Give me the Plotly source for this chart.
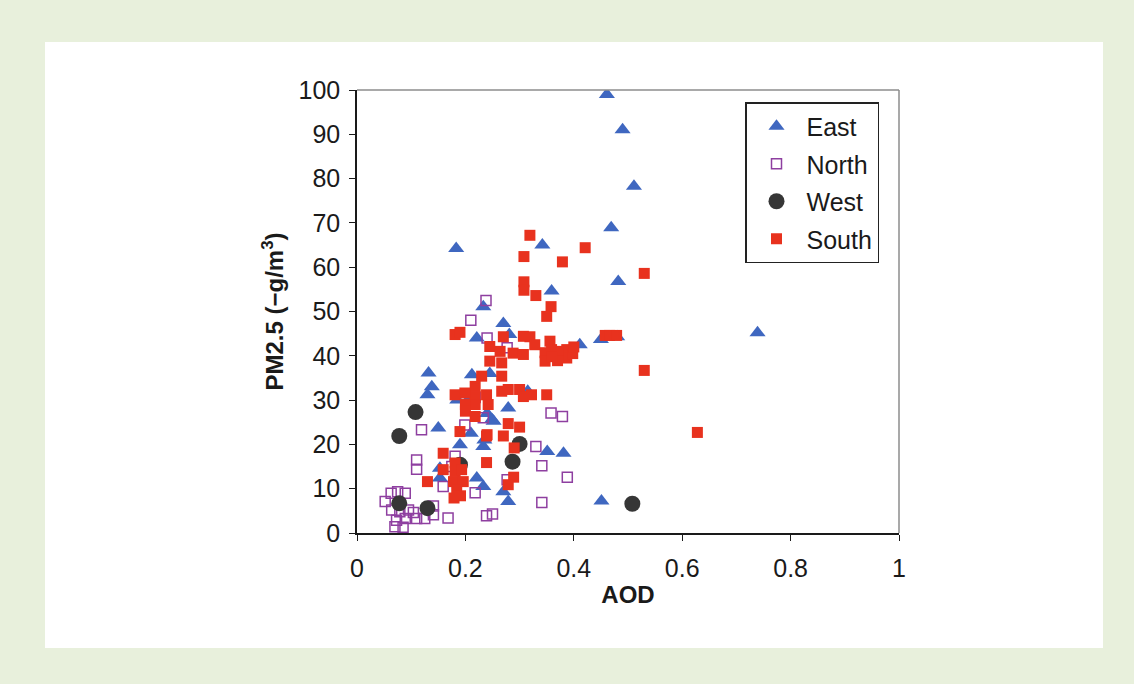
import plotly.graph_objects as go

# ---------------- data ----------------
east_x = [0.461, 0.49, 0.511, 0.469, 0.183, 0.342, 0.482, 0.359, 0.233, 0.27, 0.281, 0.221,
          0.411, 0.45, 0.48, 0.739, 0.132, 0.212, 0.138, 0.13, 0.205, 0.279, 0.252, 0.249,
          0.15, 0.19, 0.233, 0.351, 0.381, 0.153, 0.153, 0.221, 0.233, 0.27, 0.279, 0.451,
          0.245, 0.24, 0.315, 0.235, 0.21, 0.185]
east_y = [99.0, 91.0, 78.3, 68.9, 64.2, 65.0, 56.8, 54.6, 51.1, 47.3, 44.8, 44.0,
          42.5, 43.7, 44.3, 45.2, 36.1, 35.7, 33.0, 31.2, 30.0, 28.2, 25.2, 25.6,
          23.7, 19.9, 19.5, 18.4, 18.0, 14.6, 12.4, 12.4, 10.5, 9.3, 7.1, 7.2,
          36.0, 27.0, 32.0, 21.0, 22.5, 30.0]

north_x = [0.238, 0.21, 0.24, 0.277, 0.218, 0.233, 0.199, 0.119, 0.11, 0.11, 0.181, 0.159,
           0.218, 0.277, 0.33, 0.341, 0.341, 0.358, 0.379, 0.388, 0.239, 0.25, 0.168, 0.141,
           0.141, 0.125, 0.11, 0.089, 0.073, 0.07, 0.085, 0.104, 0.095, 0.079, 0.064, 0.052,
           0.063, 0.075, 0.089, 0.175]
north_y = [52.5, 48.0, 44.0, 41.8, 30.6, 26.0, 24.4, 23.3, 16.5, 14.4, 17.3, 10.5,
           9.1, 12.0, 19.5, 15.2, 6.9, 27.1, 26.3, 12.6, 3.9, 4.3, 3.4, 4.1,
           6.1, 3.3, 3.3, 3.3, 2.9, 1.4, 1.3, 4.6, 5.2, 4.8, 5.2, 7.1,
           9.0, 9.3, 9.0, 15.0]

west_x = [0.108, 0.078, 0.30, 0.287, 0.19, 0.078, 0.13, 0.508]
west_y = [27.3, 21.9, 20.1, 16.1, 15.4, 6.7, 5.6, 6.6]

south_x = [0.319, 0.308, 0.379, 0.421, 0.53, 0.308, 0.308, 0.33, 0.358, 0.35,
           0.458, 0.466, 0.479, 0.53, 0.628,
           0.181, 0.19, 0.27, 0.307, 0.319, 0.328, 0.356, 0.359, 0.387, 0.387, 0.371,
           0.347, 0.347, 0.288, 0.307, 0.245, 0.245, 0.264, 0.267, 0.267, 0.23, 0.218,
           0.218, 0.218, 0.239, 0.242, 0.267, 0.279, 0.3, 0.307, 0.322, 0.35, 0.181,
           0.199, 0.2, 0.2, 0.218, 0.3, 0.279, 0.239, 0.27, 0.19, 0.24, 0.29, 0.159,
           0.181, 0.181, 0.159, 0.193, 0.239, 0.178, 0.196, 0.184, 0.179, 0.191, 0.13,
           0.289, 0.279, 0.398, 0.37, 0.36, 0.40]
south_y = [67.2, 62.4, 61.2, 64.4, 58.6, 56.7, 54.8, 53.6, 51.1, 48.9,
           44.6, 44.6, 44.6, 36.7, 22.7,
           44.8, 45.3, 44.3, 44.4, 44.3, 42.5, 43.3, 41.4, 41.4, 39.5, 41.0,
           40.7, 38.8, 40.6, 40.3, 42.1, 38.8, 41.0, 38.4, 35.4, 35.4, 33.1,
           30.8, 29.0, 31.2, 29.0, 32.0, 32.4, 32.4, 30.8, 31.2, 31.2, 31.2,
           31.6, 29.0, 27.5, 26.3, 23.9, 24.7, 21.9, 21.9, 22.9, 22.2, 19.2, 18.0,
           15.8, 13.9, 14.3, 14.3, 15.9, 11.6, 11.6, 9.7, 7.9, 8.4, 11.6,
           12.6, 10.9, 40.5, 38.9, 39.8, 42.0]

x_ticks = [0, 0.2, 0.4, 0.6, 0.8, 1]
x_tick_text = ["0", "0.2", "0.4", "0.6", "0.8", "1"]
y_ticks = [0, 10, 20, 30, 40, 50, 60, 70, 80, 90, 100]

# ---------------- figure ----------------
W, H = 1134, 684
L, R, T, B = 357, 899, 90, 533
pw, ph = R - L, B - T

fig = go.Figure()
fig.add_trace(go.Scatter(x=east_x, y=east_y, mode="markers", name="East", legendgroup="e",
                         marker=dict(symbol="triangle-up", size=14, color="#3f67c0",
                                     line=dict(width=0))))
fig.add_trace(go.Scatter(x=north_x, y=north_y, mode="markers", name="North", legendgroup="n",
                         marker=dict(symbol="square-open", size=10, color="#8e3fa0",
                                     line=dict(width=1.5, color="#8e3fa0"))))
fig.add_trace(go.Scatter(x=west_x, y=west_y, mode="markers", name="West", legendgroup="w",
                         marker=dict(symbol="circle", size=16, color="#363636",
                                     line=dict(width=0))))
fig.add_trace(go.Scatter(x=south_x, y=south_y, mode="markers", name="South", legendgroup="s",
                         marker=dict(symbol="square", size=11, color="#e8321e",
                                     line=dict(width=0))))

def px_x(p):
    return (p - L) / pw

def px_y(p):
    return (B - p) / ph

shapes = [
    dict(type="rect", xref="paper", yref="paper", x0=px_x(45), x1=px_x(1103),
         y0=px_y(648), y1=px_y(42), fillcolor="white", line=dict(width=0), layer="below"),
    dict(type="line", xref="paper", yref="paper", x0=0, x1=1, y0=1, y1=1,
         line=dict(color="#8c8c8c", width=1.5)),
    dict(type="line", xref="paper", yref="paper", x0=1, x1=1, y0=0, y1=1,
         line=dict(color="#8c8c8c", width=1.5)),
]

font_family = "Liberation Sans, Arial, sans-serif"
fig.update_layout(
    width=W, height=H,
    margin=dict(l=L, r=W - R, t=T, b=H - B, pad=0),
    paper_bgcolor="#e8f0dc",
    plot_bgcolor="white",
    font=dict(family=font_family, size=25, color="#1a1a1a"),
    shapes=shapes,
    showlegend=True,
    legend=dict(x=px_x(745), y=px_y(102), xanchor="left", yanchor="top",
                bgcolor="white", bordercolor="#222222", borderwidth=1.5,
                font=dict(size=25, family=font_family, color="#1a1a1a"),
                tracegroupgap=2, itemsizing="trace", itemwidth=50),
    xaxis=dict(range=[0, 1], tickvals=x_ticks, ticktext=x_tick_text,
               showgrid=False, zeroline=False, showline=True, linecolor="#1a1a1a",
               linewidth=1.5, ticks="outside", ticklen=6, tickcolor="#1a1a1a",
               tickfont=dict(size=25), ticklabelstandoff=6,
               title=dict(text="<b>AOD</b>", font=dict(size=24), standoff=5)),
    yaxis=dict(range=[0, 100], tickvals=y_ticks,
               showgrid=False, zeroline=False, showline=True, linecolor="#1a1a1a",
               linewidth=1.5, ticks="outside", ticklen=6, tickcolor="#1a1a1a",
               tickfont=dict(size=25), ticklabelstandoff=4,
               title=dict(text="<b>PM2.5 (−g/m<sup>3</sup>)</b>", font=dict(size=24), standoff=8)),
)

fig.write_html("out.html")
